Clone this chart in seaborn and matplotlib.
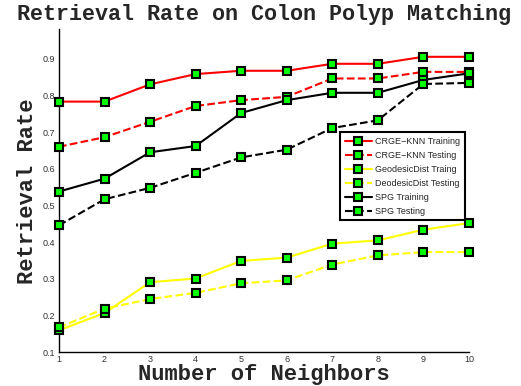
import matplotlib
matplotlib.use("Agg")
import matplotlib.pyplot as plt
import seaborn as sns
import pandas as pd

neighbors = [1, 2, 3, 4, 5, 6, 7, 8, 9, 10]
crge_train = [0.783, 0.783, 0.830, 0.858, 0.867, 0.867, 0.886, 0.886, 0.905, 0.905]
crge_test = [0.660, 0.686, 0.728, 0.771, 0.787, 0.796, 0.846, 0.846, 0.864, 0.864]
geo_train = [0.160, 0.207, 0.291, 0.301, 0.349, 0.358, 0.396, 0.405, 0.434, 0.452]
geo_test = [0.168, 0.219, 0.245, 0.262, 0.288, 0.296, 0.339, 0.364, 0.373, 0.373]
spg_train = [0.538, 0.573, 0.645, 0.662, 0.752, 0.787, 0.807, 0.807, 0.842, 0.860]
spg_test = [0.446, 0.517, 0.548, 0.589, 0.631, 0.652, 0.711, 0.732, 0.831, 0.834]

series_names = ["CRGE\u2212KNN Training", "CRGE\u2212KNN Testing", "GeodesicDist Traing",
                "DeodesicDist Testing", "SPG Training", "SPG Testing"]
series_values = [crge_train, crge_test, geo_train, geo_test, spg_train, spg_test]
colors = ["#ff0000", "#ff0000", "#ffff00", "#ffff00", "#000000", "#000000"]
styles = ["-", "--", "-", "--", "-", "--"]

rows = []
for name, vals in zip(series_names, series_values):
    for n, v in zip(neighbors, vals):
        rows.append({"Neighbors": n, "Rate": v, "Series": name})
df = pd.DataFrame(rows)

sns.set_style("white")
plt.rcParams["font.family"] = ["Liberation Sans", "DejaVu Sans"]

fig = plt.figure(figsize=(5.21, 3.86), dpi=100)
ax = fig.add_axes([0.1132, 0.0873, 0.7868, 0.8368])

for name, c, ls in zip(series_names, colors, styles):
    sub = df[df["Series"] == name]
    sns.lineplot(data=sub, x="Neighbors", y="Rate", ax=ax, color=c, linestyle=ls,
                 linewidth=1.5, marker="s", markersize=6, markerfacecolor="#00ff00",
                 markeredgecolor="black", markeredgewidth=1.5, label=name, zorder=3,
                 clip_on=False)

ax.set_xlim(1, 10)
ax.set_ylim(0.1, 0.98)
ax.set_xticks(neighbors)
ax.set_yticks([0.1, 0.2, 0.3, 0.4, 0.5, 0.6, 0.7, 0.8, 0.9])
ax.set_yticklabels(["0.1", "0.2", "0.3", "0.4", "0.5", "0.6", "0.7", "0.8", "0.9"])
ax.tick_params(direction="in", length=3, width=0.8, labelsize=6.5, colors="black",
               labelcolor="#333333", pad=3)
ax.tick_params(axis="x", pad=2)
for s in ["top", "right"]:
    ax.spines[s].set_visible(False)
for s in ["left", "bottom"]:
    ax.spines[s].set_color("black")
    ax.spines[s].set_linewidth(1.0)

ax.set_title("Retrieval Rate on Colon Polyp Matching", fontfamily="Liberation Mono",
             fontweight="bold", fontsize=15.7, pad=7)
ax.set_xlabel("Number of Neighbors", fontfamily="Liberation Mono", fontweight="bold",
              fontsize=15.9, labelpad=0)
ax.set_ylabel("Retrieval Rate", fontfamily="Liberation Mono", fontweight="bold",
              fontsize=15.9, labelpad=3)

leg = ax.legend(loc="upper left", bbox_to_anchor=(0.675, 0.695), fontsize=6.5,
                frameon=True, fancybox=False, borderpad=0.5, labelspacing=0.55,
                handlelength=3.0, handletextpad=0.4)
leg.get_frame().set_edgecolor("black")
leg.get_frame().set_linewidth(1.5)
leg.get_frame().set_alpha(1)

fig.savefig("out.png", dpi=100)
